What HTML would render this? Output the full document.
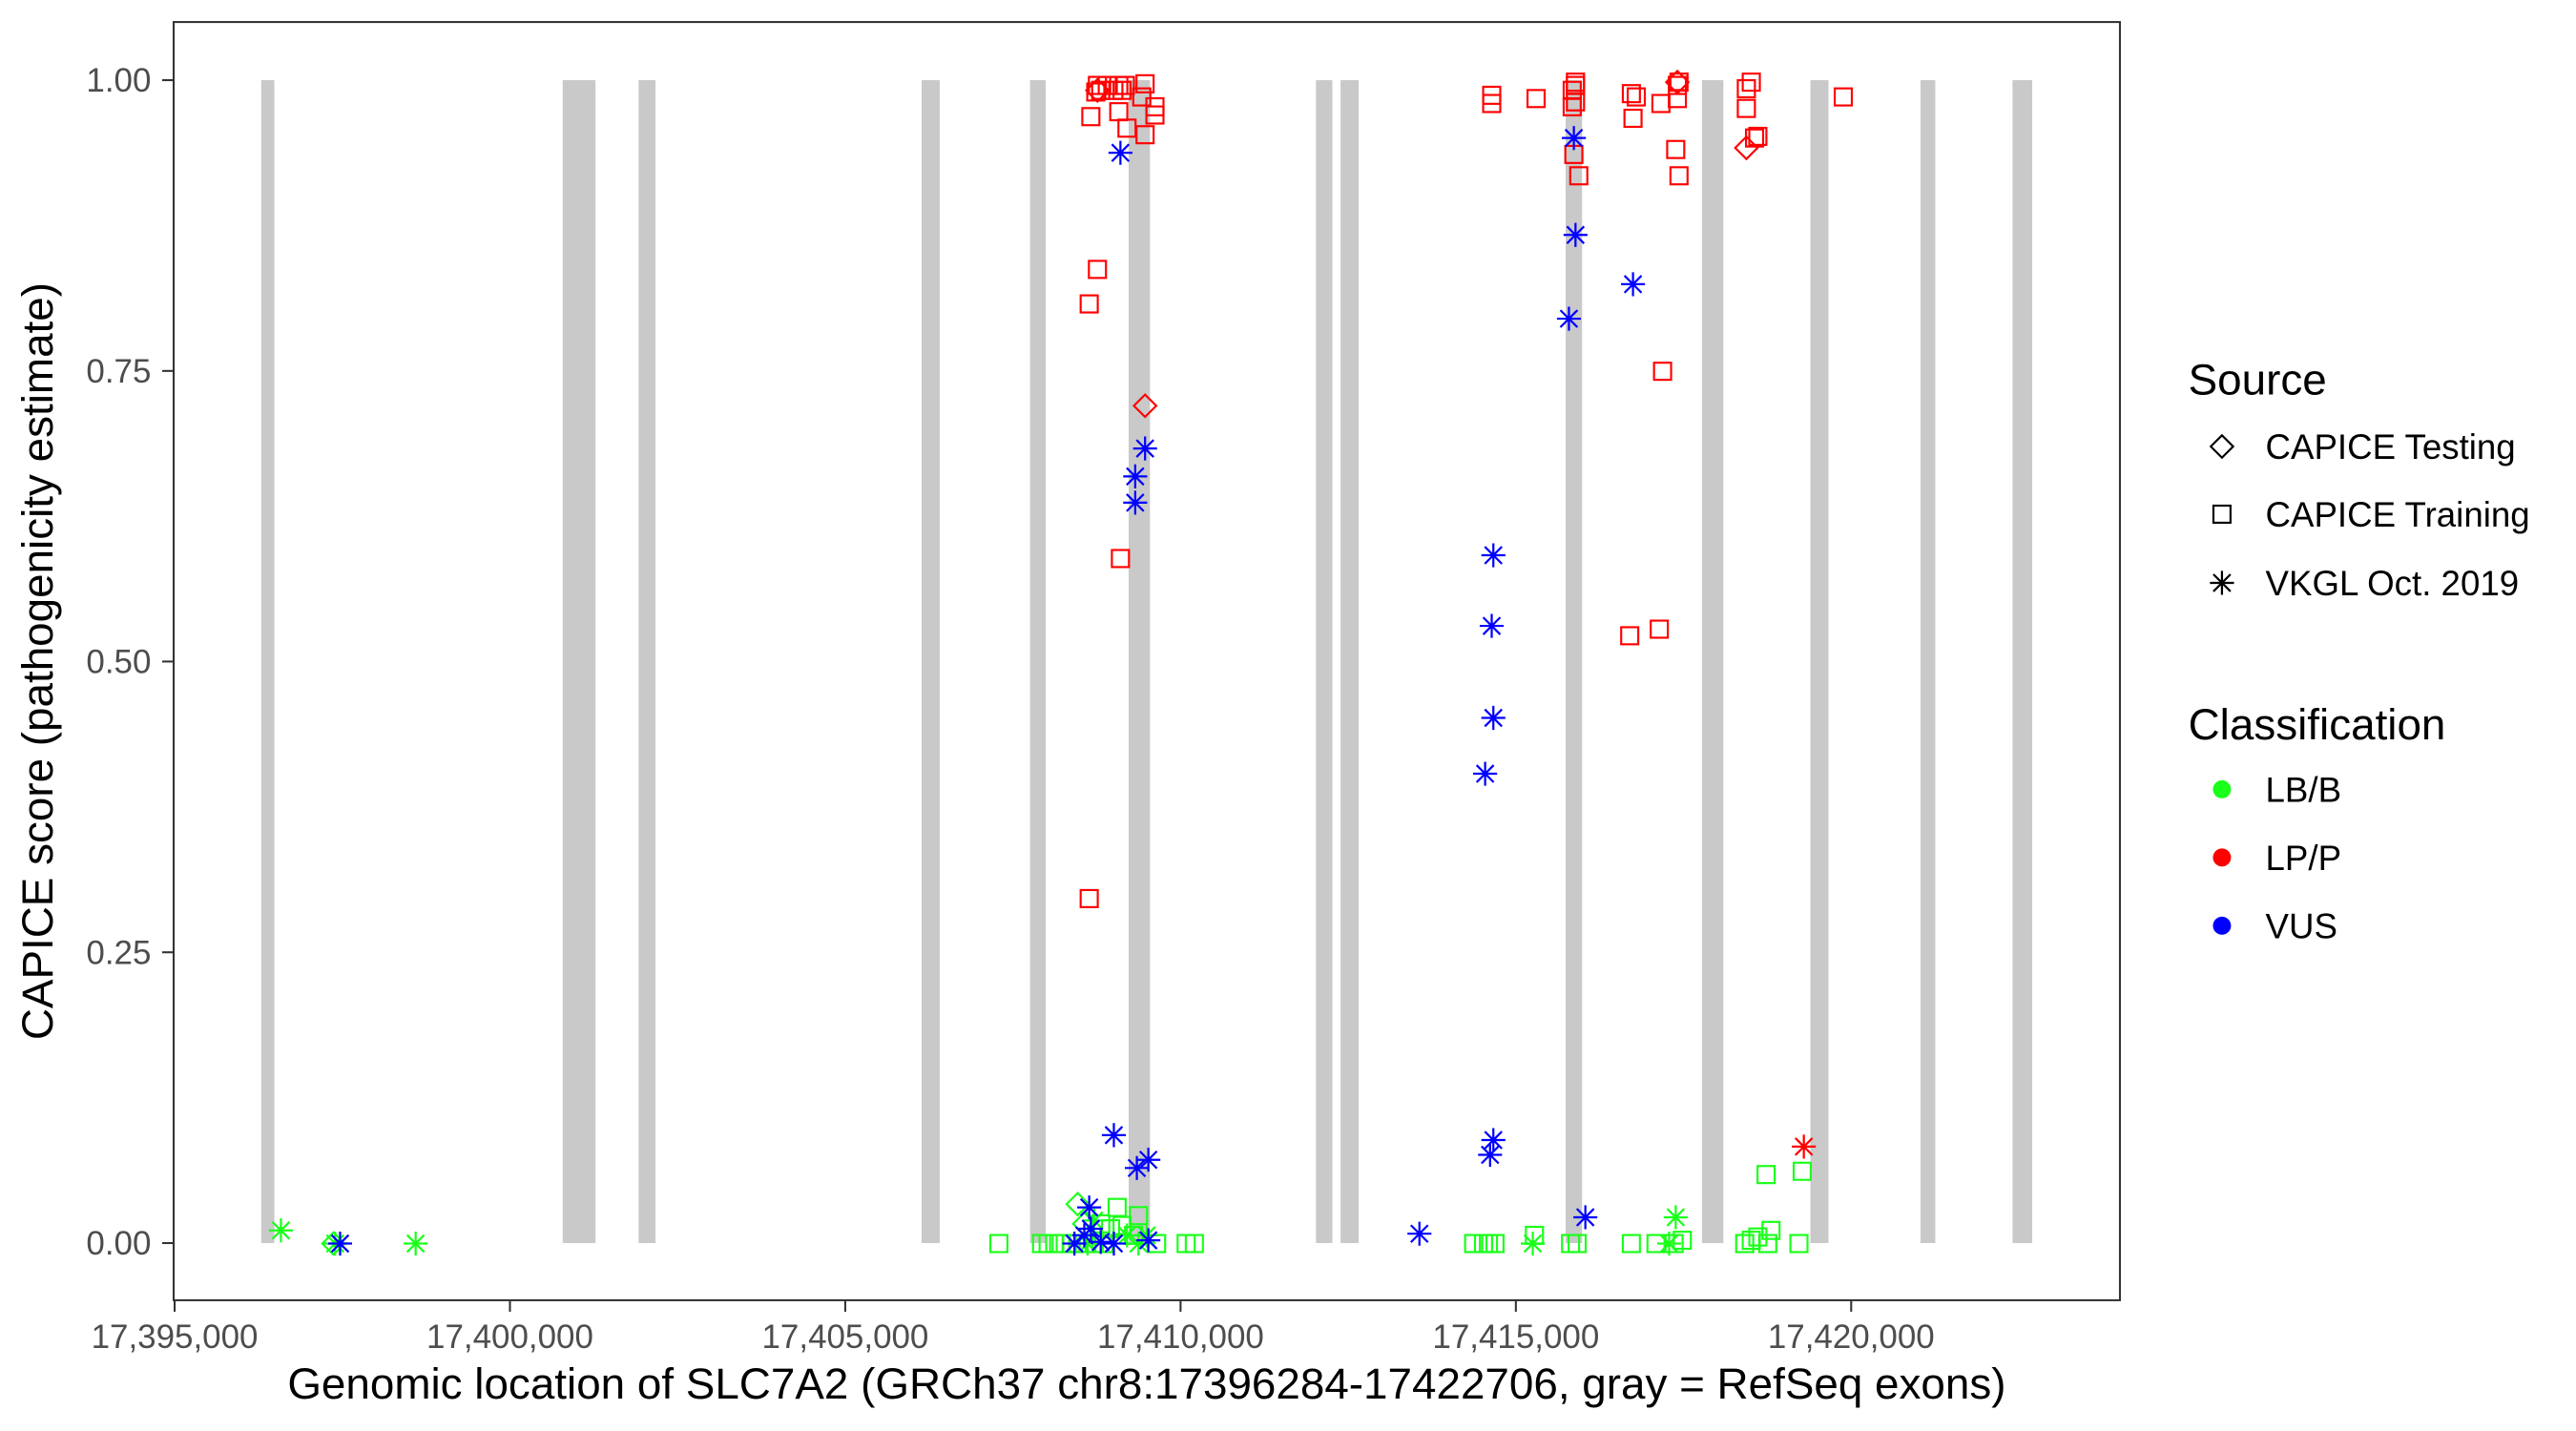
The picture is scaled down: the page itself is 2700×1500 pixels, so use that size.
<!DOCTYPE html>
<html><head><meta charset="utf-8"><style>html,body{margin:0;padding:0;background:#fff}svg{display:block}</style></head>
<body>
<svg width="2700" height="1500" viewBox="0 0 1568 871.1" xmlns="http://www.w3.org/2000/svg" font-family="Liberation Sans, Arial, sans-serif">
<defs>
<rect id="s" x="-5.2" y="-5.2" width="10.4" height="10.4" fill="none" stroke-width="1.25"/>
<path id="d" d="M0,-6.8L6.8,0L0,6.8L-6.8,0Z" fill="none" stroke-width="1.25"/>
<path id="a" d="M0,-7.3V7.3M-7.3,0H7.3M-5.2,-5.2L5.2,5.2M-5.2,5.2L5.2,-5.2" fill="none" stroke-width="1.3"/>
</defs>
<rect x="0" y="0" width="1568" height="871.1" fill="#fff"/>
<g fill="#C9C9C9">
<rect x="159" y="48.8" width="8" height="707.9"/>
<rect x="342.5" y="48.8" width="20" height="707.9"/>
<rect x="388.7" y="48.8" width="10.3" height="707.9"/>
<rect x="561" y="48.8" width="11" height="707.9"/>
<rect x="627" y="48.8" width="9.5" height="707.9"/>
<rect x="687" y="48.8" width="13" height="707.9"/>
<rect x="801" y="48.8" width="10" height="707.9"/>
<rect x="816" y="48.8" width="11" height="707.9"/>
<rect x="953" y="48.8" width="10" height="707.9"/>
<rect x="1036" y="48.8" width="13" height="707.9"/>
<rect x="1102" y="48.8" width="11" height="707.9"/>
<rect x="1169" y="48.8" width="9" height="707.9"/>
<rect x="1225" y="48.8" width="12" height="707.9"/>
</g>
<g stroke="#FF0000">
<use href="#s" x="664" y="71"/><use href="#s" x="667" y="56"/><use href="#s" x="668" y="52"/><use href="#s" x="670" y="55"/>
<use href="#s" x="674" y="52"/><use href="#s" x="678" y="55"/><use href="#s" x="681" y="52"/><use href="#s" x="683" y="55"/>
<use href="#s" x="685" y="52"/><use href="#s" x="686" y="78"/><use href="#s" x="681" y="68"/><use href="#s" x="697" y="51"/>
<use href="#s" x="695" y="59"/><use href="#s" x="703" y="65"/><use href="#s" x="703" y="70"/><use href="#s" x="697" y="82"/>
<use href="#s" x="682" y="340"/><use href="#s" x="663" y="185"/><use href="#s" x="668" y="164"/><use href="#s" x="663" y="547"/>
<use href="#s" x="908" y="58"/><use href="#s" x="908" y="63"/><use href="#s" x="935" y="60"/><use href="#s" x="957" y="55"/>
<use href="#s" x="957" y="65"/><use href="#s" x="959" y="50"/><use href="#s" x="959" y="62"/><use href="#s" x="958" y="94"/>
<use href="#s" x="961" y="107"/><use href="#s" x="993" y="57"/><use href="#s" x="996" y="59"/><use href="#s" x="994" y="72"/>
<use href="#s" x="1011" y="63"/><use href="#s" x="1020" y="91"/><use href="#s" x="1021" y="60"/><use href="#s" x="1022" y="50"/>
<use href="#s" x="1022" y="107"/><use href="#s" x="1063" y="54"/><use href="#s" x="1063" y="66"/><use href="#s" x="1066" y="50"/>
<use href="#s" x="1068" y="84"/><use href="#s" x="1070" y="83"/><use href="#s" x="1122" y="59"/><use href="#s" x="1012" y="226"/>
<use href="#s" x="992" y="387"/><use href="#s" x="1010" y="383"/><use href="#s" x="959" y="52"/><use href="#s" x="1021" y="52"/>
<use href="#d" x="697" y="247"/><use href="#d" x="1063" y="90"/><use href="#d" x="1021" y="50"/><use href="#d" x="668" y="55"/>
<use href="#a" x="1098" y="698"/>
</g>
<g stroke="#1AFF1A">
<use href="#s" x="608" y="757"/><use href="#s" x="634" y="757"/><use href="#s" x="638" y="757"/><use href="#s" x="642" y="757"/>
<use href="#s" x="646" y="757"/><use href="#s" x="652" y="757"/><use href="#s" x="656" y="757"/><use href="#s" x="660" y="757"/>
<use href="#s" x="666" y="757"/><use href="#s" x="672" y="757"/><use href="#s" x="680" y="735"/><use href="#s" x="683" y="746"/>
<use href="#s" x="690" y="752"/><use href="#s" x="704" y="757"/><use href="#s" x="722" y="757"/><use href="#s" x="727" y="757"/>
<use href="#s" x="897" y="757"/><use href="#s" x="903" y="757"/><use href="#s" x="906" y="757"/><use href="#s" x="910" y="757"/>
<use href="#s" x="934" y="752"/><use href="#s" x="956" y="757"/><use href="#s" x="960" y="757"/><use href="#s" x="993" y="757"/>
<use href="#s" x="1008" y="757"/><use href="#s" x="1019" y="757"/><use href="#s" x="1024" y="755"/><use href="#s" x="1062" y="757"/>
<use href="#s" x="1066" y="755"/><use href="#s" x="1070" y="753"/><use href="#s" x="1076" y="757"/><use href="#s" x="1078" y="749"/>
<use href="#s" x="1095" y="757"/><use href="#s" x="1075" y="715"/><use href="#s" x="1097" y="713"/><use href="#s" x="693" y="740"/>
<use href="#s" x="670" y="745"/><use href="#s" x="676" y="748"/>
<use href="#d" x="656" y="733"/><use href="#d" x="660" y="745"/><use href="#d" x="203" y="757"/>
<use href="#a" x="171" y="749"/><use href="#a" x="204" y="757"/><use href="#a" x="253" y="757"/><use href="#a" x="1020" y="741"/>
<use href="#a" x="933" y="757"/><use href="#a" x="1016" y="757"/><use href="#a" x="662" y="757"/><use href="#a" x="686" y="752"/>
<use href="#a" x="693" y="757"/><use href="#a" x="666" y="743"/><use href="#a" x="698" y="752"/>
</g>
<g stroke="#0000FF">
<use href="#a" x="682" y="93"/><use href="#a" x="697" y="273"/><use href="#a" x="691" y="290"/><use href="#a" x="691" y="306"/>
<use href="#a" x="909" y="338"/><use href="#a" x="908" y="381"/><use href="#a" x="909" y="437"/><use href="#a" x="904" y="471"/>
<use href="#a" x="958" y="84"/><use href="#a" x="959" y="143"/><use href="#a" x="955" y="194"/><use href="#a" x="994" y="173"/>
<use href="#a" x="678" y="691"/><use href="#a" x="692" y="711"/><use href="#a" x="699" y="706"/><use href="#a" x="909" y="694"/>
<use href="#a" x="907" y="703"/><use href="#a" x="864" y="751"/><use href="#a" x="965" y="741"/><use href="#a" x="207" y="757"/>
<use href="#a" x="663" y="735"/><use href="#a" x="660" y="752"/><use href="#a" x="664" y="748"/><use href="#a" x="670" y="756"/>
<use href="#a" x="678" y="757"/><use href="#a" x="699" y="755"/><use href="#a" x="654" y="757"/>
</g>
<rect x="105.7" y="13.4" width="1184.7" height="778.1" fill="none" stroke="#333" stroke-width="1.2"/>
<g stroke="#333" stroke-width="1.2">
<line x1="98.7" x2="105.7" y1="48.8" y2="48.8"/><line x1="98.7" x2="105.7" y1="225.8" y2="225.8"/>
<line x1="98.7" x2="105.7" y1="402.7" y2="402.7"/><line x1="98.7" x2="105.7" y1="579.7" y2="579.7"/>
<line x1="98.7" x2="105.7" y1="756.7" y2="756.7"/>
<line x1="106.3" x2="106.3" y1="791.5" y2="798.5"/><line x1="310.4" x2="310.4" y1="791.5" y2="798.5"/>
<line x1="514.5" x2="514.5" y1="791.5" y2="798.5"/><line x1="718.6" x2="718.6" y1="791.5" y2="798.5"/>
<line x1="922.7" x2="922.7" y1="791.5" y2="798.5"/><line x1="1126.8" x2="1126.8" y1="791.5" y2="798.5"/>
</g>
<g fill="#4D4D4D" font-size="20.3" text-anchor="end">
<text x="92" y="55.8">1.00</text><text x="92" y="232.8">0.75</text><text x="92" y="409.7">0.50</text>
<text x="92" y="586.7">0.25</text><text x="92" y="763.7">0.00</text>
</g>
<g fill="#4D4D4D" font-size="20.3" text-anchor="middle">
<text x="106.3" y="820.5">17,395,000</text><text x="310.4" y="820.5">17,400,000</text><text x="514.5" y="820.5">17,405,000</text>
<text x="718.6" y="820.5">17,410,000</text><text x="922.7" y="820.5">17,415,000</text><text x="1126.8" y="820.5">17,420,000</text>
</g>
<text x="698" y="851.5" font-size="26.6" text-anchor="middle" fill="#000">Genomic location of SLC7A2 (GRCh37 chr8:17396284-17422706, gray = RefSeq exons)</text>
<text transform="translate(32,402.5) rotate(-90)" font-size="26.6" text-anchor="middle" fill="#000">CAPICE score (pathogenicity estimate)</text>
<text x="1332" y="240" font-size="26.6" fill="#000">Source</text>
<g stroke="#000"><use href="#d" x="1352.5" y="271.8"/><use href="#s" x="1352.5" y="313"/><use href="#a" x="1352.5" y="354.8"/></g>
<g font-size="21.3" fill="#000">
<text x="1379" y="279.4">CAPICE Testing</text><text x="1379" y="320.6">CAPICE Training</text><text x="1379" y="362.4">VKGL Oct. 2019</text>
</g>
<text x="1332" y="450" font-size="26.6" fill="#000">Classification</text>
<circle cx="1352.5" cy="480.5" r="5.5" fill="#1AFF1A"/><circle cx="1352.5" cy="522" r="5.5" fill="#FF0000"/><circle cx="1352.5" cy="563.5" r="5.5" fill="#0000FF"/>
<g font-size="21.3" fill="#000">
<text x="1379" y="488.1">LB/B</text><text x="1379" y="529.6">LP/P</text><text x="1379" y="571.1">VUS</text>
</g>
</svg>
</body></html>
